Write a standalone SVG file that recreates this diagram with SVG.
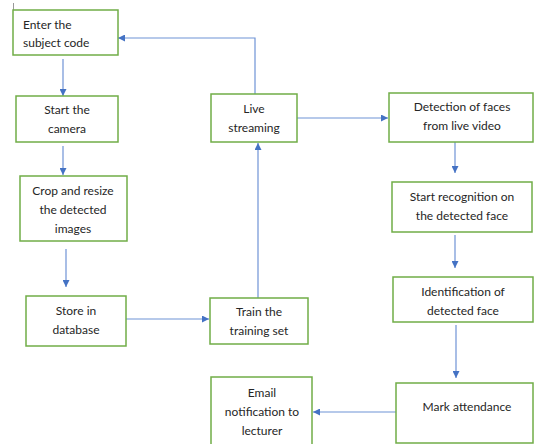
<svg xmlns="http://www.w3.org/2000/svg" width="534" height="444" viewBox="0 0 534 444">
<style>
.box{fill:#fff;stroke:#70AD47;stroke-width:1.5}
.t{font-family:Lato,"Open Sans",sans-serif;font-size:12px;fill:#262626;text-anchor:middle}
.c{fill:none;stroke:#6f93d6;stroke-width:1.2}
</style>
<defs>
<marker id="a" viewBox="0 0 10 10" refX="10" refY="5" markerWidth="7" markerHeight="7" markerUnits="userSpaceOnUse" orient="auto">
<path d="M0,0L10,5L0,10z" fill="#4472C4"/>
</marker>
</defs>
<rect width="534" height="444" fill="#fff"/>
<line x1="13.5" y1="3" x2="13.5" y2="20" stroke="#999" stroke-width="1"/>
<g id="connectors">
<path class="c" d="M63,59V96" marker-end="url(#a)"/>
<path class="c" d="M63,146V175" marker-end="url(#a)"/>
<path class="c" d="M66,249V287" marker-end="url(#a)"/>
<path class="c" d="M126,319H209" marker-end="url(#a)"/>
<path class="c" d="M258,298V143" marker-end="url(#a)"/>
<path class="c" d="M255,94V38H118" marker-end="url(#a)"/>
<path class="c" d="M297,118H388" marker-end="url(#a)"/>
<path class="c" d="M455,142V173" marker-end="url(#a)"/>
<path class="c" d="M455,235V268" marker-end="url(#a)"/>
<path class="c" d="M456,325V378" marker-end="url(#a)"/>
<path class="c" d="M396,412H313" marker-end="url(#a)"/>
</g>
<g id="n1"><rect class="box" x="13" y="10" width="105" height="45"/><text class="t" style="text-anchor:start"><tspan x="23" y="29">Enter the</tspan><tspan x="23" y="47">subject code</tspan></text></g>
<g id="n2"><rect class="box" x="16" y="96" width="102" height="46"/><text class="t"><tspan x="67" y="114">Start the</tspan><tspan x="67" y="133">camera</tspan></text></g>
<g id="n3"><rect class="box" x="20" y="176" width="107" height="65"/><text class="t"><tspan x="73" y="195">Crop and resize</tspan><tspan x="73" y="214">the detected</tspan><tspan x="73" y="233">images</tspan></text></g>
<g id="n4"><rect class="box" x="26" y="296" width="100" height="50"/><text class="t"><tspan x="76" y="315">Store in</tspan><tspan x="76" y="334">database</tspan></text></g>
<g id="n5"><rect class="box" x="210" y="298" width="98" height="46"/><text class="t"><tspan x="259" y="316">Train the</tspan><tspan x="259" y="335">training set</tspan></text></g>
<g id="n6"><rect class="box" x="211" y="94" width="86" height="48"/><text class="t"><tspan x="254" y="113">Live</tspan><tspan x="254" y="132">streaming</tspan></text></g>
<g id="n7"><rect class="box" x="389" y="93" width="144" height="49"/><text class="t"><tspan x="462" y="111">Detection of faces</tspan><tspan x="462" y="130">from live video</tspan></text></g>
<g id="n8"><rect class="box" x="392" y="182" width="140" height="50"/><text class="t"><tspan x="462" y="201">Start recognition on</tspan><tspan x="462" y="220">the detected face</tspan></text></g>
<g id="n9"><rect class="box" x="393" y="277" width="140" height="45"/><text class="t"><tspan x="463" y="296">Identification of</tspan><tspan x="463" y="315">detected face</tspan></text></g>
<g id="n10"><rect class="box" x="396" y="383" width="137" height="60"/><text class="t"><tspan x="467" y="411">Mark attendance</tspan></text></g>
<g id="n11"><rect class="box" x="211" y="377" width="101" height="70"/><text class="t"><tspan x="262" y="397">Email</tspan><tspan x="262" y="416">notification to</tspan><tspan x="262" y="435">lecturer</tspan></text></g>
</svg>
